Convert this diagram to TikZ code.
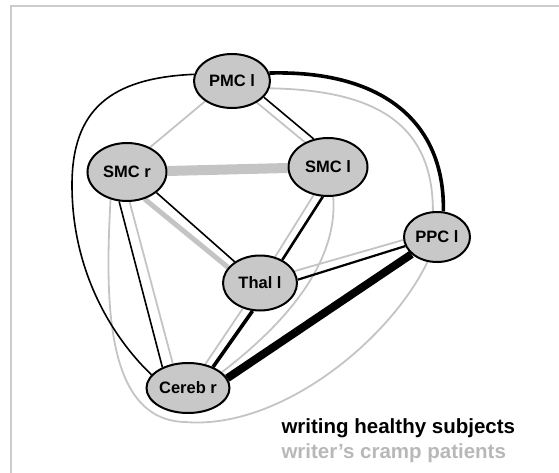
\documentclass[tikz,border=0pt]{standalone}
\usepackage{fontspec}
\setmainfont{Liberation Sans}
\usetikzlibrary{shapes.geometric}
\definecolor{edgegray}{RGB}{196,196,196}
\definecolor{areafill}{RGB}{200,200,200}
\definecolor{framegray}{RGB}{204,204,204}
\definecolor{textgray}{RGB}{184,184,184}
\pgfdeclarelayer{bg}
\pgfsetlayers{bg,main}
\begin{document}
\begin{tikzpicture}[x=1pt,y=-1pt,
    area/.style={ellipse,draw,line width=2pt,fill=areafill,minimum width=76pt,
      minimum height=54pt,inner sep=0pt,font=\bfseries\fontsize{16.5}{16.5}\selectfont},
    healthy/.style={draw=black,line width=1.6pt},
    cramp/.style={draw=edgegray,line width=1.8pt}]
  \useasboundingbox (0,0) rectangle (559,473);
  \draw[framegray,line width=1.5pt] (11,473) -- (11,6) -- (559,6);

  \node[area] (PMC) at (232,81) {PMC l};
  \node[area,minimum width=79pt,minimum height=58pt] (SMCr) at (127,172) {SMC r};
  \node[area,minimum width=79pt,minimum height=58pt] (SMCl) at (328,167) {SMC l};
  \node[area,minimum width=66pt,minimum height=50pt] (PPC) at (437,237) {PPC l};
  \node[area,minimum width=74pt,minimum height=55pt] (Thal) at (260,283) {Thal l};
  \node[area,minimum width=83pt,minimum height=50pt] (Cereb) at (188,388) {Cereb r};

  \node[anchor=base west,font=\bfseries\fontsize{20.5}{20.5}\selectfont] (healthy) at (278,433) {writing healthy subjects};
  \node[anchor=base west,text=textgray,font=\bfseries\fontsize{20.5}{20.5}\selectfont] (cramp) at (278,458) {writer’s cramp patients};

  \begin{pgfonlayer}{bg}
    % writer's cramp patients
    \draw[cramp] (PMC.-41) -- (SMCl.133);
    \draw[cramp] (PMC.217) -- (SMCr.47);
    \draw[cramp,line width=10pt] (SMCr) -- (SMCl);
    \draw[cramp,line width=5pt] (SMCr.-57) -- (Thal.154);
    \draw[cramp] (SMCr.-85) -- (Cereb.122);
    \draw[cramp] (SMCl.243) -- (Thal.60);
    \draw[cramp] (Thal.19) -- (PPC.185);
    \draw[cramp] (Thal.236) -- (Cereb.54);
    \draw[cramp] (PMC.-11) .. controls (370,90) and (433,120) .. (PPC.99);
    \draw[cramp] (SMCl.-80) .. controls (338,260) and (290,320) .. (Cereb.25);
    \draw[cramp] (SMCr.239) .. controls (105,300) and (105,420) .. (185,422)
      .. controls (280,430) and (390,340) .. (PPC.249);
    % writing healthy subjects
    \draw[healthy] (PMC.-27) -- (SMCl.117);
    \draw[healthy] (SMCr.-35) -- (Thal.140);
    \draw[healthy] (SMCr.255) -- (Cereb.141);
    \draw[healthy,line width=2.6pt] (SMCl.260) -- (Thal.46);
    \draw[healthy,line width=2.2pt] (Thal.5) -- (PPC.196);
    \draw[healthy,line width=3.6pt] (Thal.255) -- (Cereb.40);
    \draw[healthy,line width=8pt] (PPC.214) -- (Cereb.14);
    \draw[healthy,line width=3.6pt] (PMC.12) .. controls (380,70) and (445,120) .. (PPC.76);
    \draw[healthy] (PMC.170) .. controls (110,78) and (72,110) .. (72,185)
      .. controls (72,280) and (120,345) .. (Cereb.160);
  \end{pgfonlayer}
\end{tikzpicture}
\end{document}
